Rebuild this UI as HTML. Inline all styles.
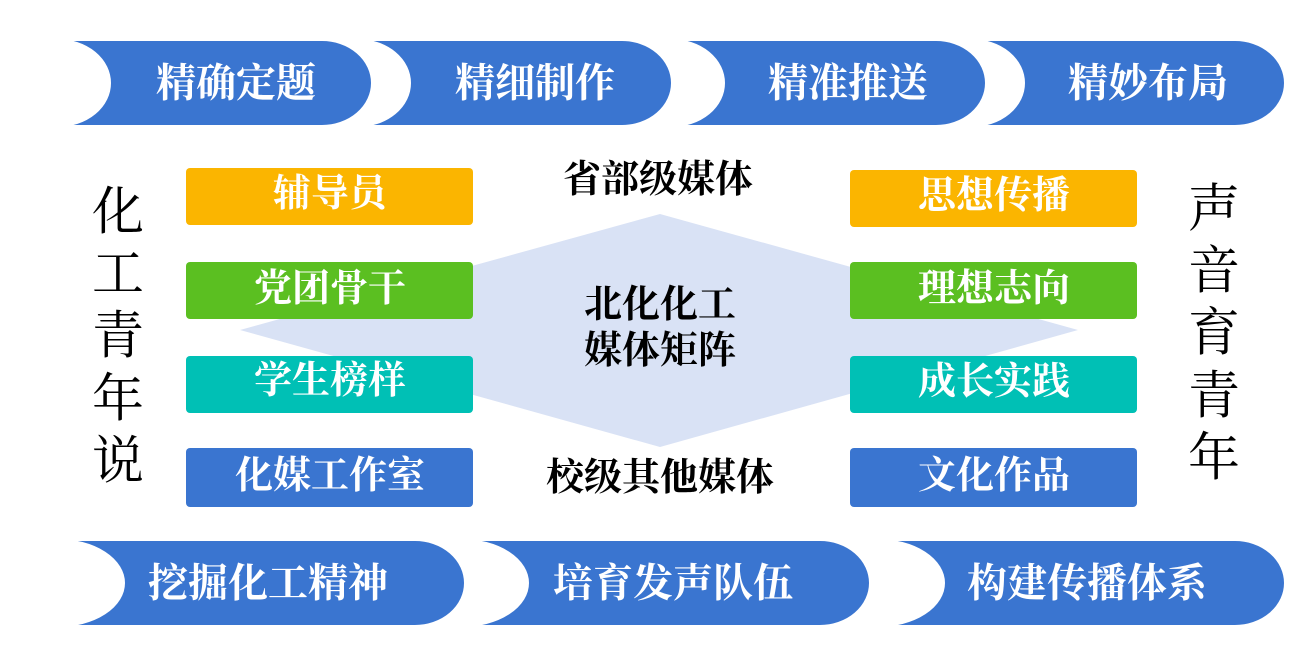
<!DOCTYPE html>
<html><head><meta charset="utf-8"><style>
html,body{margin:0;padding:0;background:#fff;}
svg{display:block}
text{font-family:"Liberation Serif","Noto Serif CJK SC",serif;}
.w{fill:#fff;font-weight:bold;text-anchor:middle;dominant-baseline:central;}
.b{fill:#000;font-weight:bold;text-anchor:middle;dominant-baseline:central;}
.v{fill:#000;text-anchor:middle;dominant-baseline:central;font-size:52px;}
</style></head><body>
<svg width="1312" height="654" viewBox="0 0 1312 654" xmlns="http://www.w3.org/2000/svg">
<g fill="#3A75D0" stroke="#fff" stroke-width="2">
<path d="M58 40 L322 40 A50 43 0 0 1 322 126 L58 126 A52 43 0 0 0 58 40Z"/>
<path d="M358 40 L622 40 A50 43 0 0 1 622 126 L358 126 A52 43 0 0 0 358 40Z"/>
<path d="M672 40 L936 40 A50 43 0 0 1 936 126 L672 126 A52 43 0 0 0 672 40Z"/>
<path d="M972 40 L1235 40 A50 43 0 0 1 1235 126 L972 126 A52 43 0 0 0 972 40Z"/>
<path d="M58 540 L415 540 A50 43 0 0 1 415 626 L58 626 A66 43 0 0 0 58 540Z"/>
<path d="M462 540 L820 540 A50 43 0 0 1 820 626 L462 626 A66 43 0 0 0 462 540Z"/>
<path d="M878 540 L1235 540 A50 43 0 0 1 1235 626 L878 626 A66 43 0 0 0 878 540Z"/>
</g>
<g font-size="40">
<text x="236" y="83" class="w">精确定题</text>
<text x="535" y="83" class="w">精细制作</text>
<text x="848" y="83" class="w">精准推送</text>
<text x="1148" y="83" class="w">精妙布局</text>
<text x="268" y="583" class="w">挖掘化工精神</text>
<text x="673" y="583" class="w">培育发声队伍</text>
<text x="1087" y="583" class="w">构建传播体系</text>
</g>
<polygon points="240,330 660,214 1078,330 660,447" fill="#D9E2F5"/>
<g>
<rect x="186" y="168" width="287" height="57" rx="4" fill="#FBB500"/>
<rect x="186" y="262" width="287" height="57" rx="4" fill="#5BBF21"/>
<rect x="186" y="356" width="287" height="57" rx="4" fill="#00C0B5"/>
<rect x="186" y="448" width="287" height="59" rx="4" fill="#3A75D0"/>
<rect x="850" y="170" width="287" height="57" rx="4" fill="#FBB500"/>
<rect x="850" y="262" width="287" height="57" rx="4" fill="#5BBF21"/>
<rect x="850" y="356" width="287" height="57" rx="4" fill="#00C0B5"/>
<rect x="850" y="448" width="287" height="59" rx="4" fill="#3A75D0"/>
</g>
<g font-size="38">
<text x="330" y="194" class="w">辅导员</text>
<text x="330" y="289" class="w">党团骨干</text>
<text x="330" y="381" class="w">学生榜样</text>
<text x="330" y="476" class="w">化媒工作室</text>
<text x="994" y="196" class="w">思想传播</text>
<text x="994" y="289" class="w">理想志向</text>
<text x="994" y="382" class="w">成长实践</text>
<text x="994" y="476" class="w">文化作品</text>
<text x="658" y="180" class="b">省部级媒体</text>
<text x="660" y="305" class="b">北化化工</text>
<text x="660" y="351" class="b">媒体矩阵</text>
<text x="660" y="478" class="b">校级其他媒体</text>
</g>
<g>
<text x="118" y="213" class="v">化</text>
<text x="118" y="275" class="v">工</text>
<text x="118" y="337" class="v">青</text>
<text x="118" y="400" class="v">年</text>
<text x="118" y="462" class="v">说</text>
<text x="1214" y="210" class="v">声</text>
<text x="1214" y="272" class="v">音</text>
<text x="1214" y="334" class="v">育</text>
<text x="1214" y="397" class="v">青</text>
<text x="1214" y="459" class="v">年</text>
</g>
</svg>
</body></html>
